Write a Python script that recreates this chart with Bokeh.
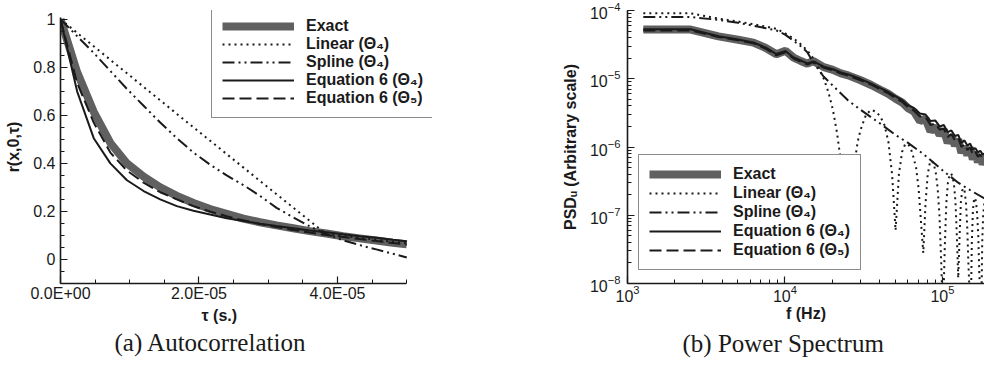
from bokeh.plotting import figure
from bokeh.layouts import row
from bokeh.models import (Range1d, FixedTicker, CustomJSTickFormatter, Legend,
                          LegendItem, Title)
from bokeh.embed import file_html
from bokeh.resources import INLINE

# ---------------- (a) Autocorrelation ----------------
tau = [0, 2.4e-6, 4.8e-6, 7.2e-6, 9.6e-6, 1.2e-5, 1.44e-5, 1.68e-5, 1.92e-5,
       2.16e-5, 2.4e-5, 2.64e-5, 2.88e-5, 3.12e-5, 3.36e-5, 3.6e-5, 3.84e-5,
       4.08e-5, 4.32e-5, 4.56e-5, 4.8e-5, 5.0e-5]
r_exact = [1.0, 0.78, 0.615, 0.485, 0.40, 0.345, 0.30, 0.265, 0.235, 0.21,
           0.19, 0.17, 0.155, 0.142, 0.13, 0.118, 0.108, 0.097, 0.088, 0.079,
           0.07, 0.063]
r_eq6_t4 = [1.0, 0.70, 0.505, 0.40, 0.33, 0.285, 0.25, 0.222, 0.203, 0.187,
            0.172, 0.16, 0.149, 0.139, 0.13, 0.121, 0.113, 0.105, 0.097, 0.09,
            0.082, 0.076]
r_eq6_t5 = [1.0, 0.735, 0.57, 0.445, 0.37, 0.32, 0.28, 0.25, 0.222, 0.2,
            0.18, 0.163, 0.148, 0.135, 0.123, 0.112, 0.102, 0.094, 0.085,
            0.077, 0.069, 0.062]
r_spline = [1.0, 0.93, 0.86, 0.785, 0.71, 0.64, 0.57, 0.505, 0.445, 0.395,
            0.35, 0.31, 0.265, 0.215, 0.175, 0.138, 0.105, 0.08, 0.06, 0.042,
            0.024, 0.008]
tau_linear = [0, 1.92e-5, 3.84e-5, 4.32e-5, 5.0e-5]
r_linear = [1.0, 0.55, 0.105, 0.09, 0.067]

# ---------------- (b) Power spectrum ----------------
f_psd = [1260, 2520, 3780, 5040, 6300, 7560, 8820, 10080, 11340, 12600, 13860,
         15120, 17640, 20160, 22680, 25200, 30240, 35280, 40320, 45360, 50400,
         55440, 60480, 66000, 72000, 78000, 84000, 90000, 96000, 102000,
         108000, 114000, 120000, 126000, 132000, 138000, 144000, 150000,
         156000, 162000, 168000, 174000, 180000, 186000]
psd_exact = [5.25e-5, 5.25e-5, 4.17e-5, 3.72e-5, 3.39e-5, 2.82e-5, 2.29e-5,
             2.57e-5, 2.04e-5, 1.82e-5, 1.66e-5, 1.82e-5, 1.48e-5, 1.35e-5,
             1.20e-5, 1.12e-5, 9.5e-6, 8.1e-6, 6.9e-6, 6.0e-6, 5.1e-6, 4.5e-6,
             3.7e-6, 3.3e-6, 2.4e-6, 2.6e-6, 1.7e-6, 2.0e-6, 1.5e-6, 1.8e-6,
             1.15e-6, 1.45e-6, 1.05e-6, 1.29e-6, 8.2e-7, 1.02e-6, 7.6e-7,
             9.8e-7, 6.6e-7, 8.3e-7, 6.0e-7, 7.6e-7, 5.6e-7, 6.6e-7]
psd_eq6_t4 = [5.3e-5, 5.3e-5, 4.2e-5, 3.75e-5, 3.4e-5, 2.85e-5, 2.3e-5,
              2.55e-5, 2.05e-5, 1.85e-5, 1.68e-5, 1.8e-5, 1.5e-5, 1.38e-5,
              1.24e-5, 1.16e-5, 9.9e-6, 8.5e-6, 7.3e-6, 6.4e-6, 5.5e-6, 4.9e-6,
              4.1e-6, 3.7e-6, 3.1e-6, 3.0e-6, 2.4e-6, 2.45e-6, 2.0e-6, 2.1e-6,
              1.65e-6, 1.75e-6, 1.45e-6, 1.5e-6, 1.15e-6, 1.25e-6, 1.05e-6,
              1.12e-6, 9.2e-7, 9.6e-7, 8.4e-7, 8.8e-7, 7.8e-7, 8.0e-7]
psd_eq6_t5 = [5.1e-5, 5.1e-5, 4.1e-5, 3.65e-5, 3.3e-5, 2.75e-5, 2.2e-5,
              2.45e-5, 1.98e-5, 1.78e-5, 1.62e-5, 1.75e-5, 1.45e-5, 1.33e-5,
              1.19e-5, 1.11e-5, 9.5e-6, 8.2e-6, 7.0e-6, 6.1e-6, 5.2e-6, 4.6e-6,
              3.8e-6, 3.4e-6, 2.8e-6, 2.75e-6, 2.1e-6, 2.2e-6, 1.8e-6, 1.85e-6,
              1.4e-6, 1.55e-6, 1.25e-6, 1.35e-6, 1.0e-6, 1.1e-6, 9.0e-7,
              9.8e-7, 7.8e-7, 8.5e-7, 7.2e-7, 7.8e-7, 6.6e-7, 7.0e-7]
f_linear = [1260, 2520, 3780, 5040, 6300, 7560, 8820, 10080, 11340, 12600,
            13860, 15120, 16380, 17640, 18900, 20160, 21420, 22680, 23940,
            25200, 26460, 27720, 28980, 30240, 32760, 35280, 37800, 40320,
            42840, 45360, 47880, 50400, 52920, 55440, 57960, 60480, 63000,
            65520, 68040, 70560, 73080, 75600, 78120, 80640, 83160, 85680,
            88200, 90720, 93240, 95760, 98280, 100800, 103320, 105840, 108360,
            110880, 113400, 115920, 118440, 120960, 123480, 126000, 128520,
            131040, 133560, 136080, 138600, 141120, 143640, 146160, 151200,
            153720, 156240, 158760, 161280, 163800, 166320, 168840, 171360,
            176400, 178920, 181440, 184000, 186000]
psd_linear = [9.1e-5, 9.1e-5, 7.6e-5, 6.9e-5, 6.3e-5, 5.8e-5, 5.4e-5, 4.6e-5,
              3.9e-5, 3.2e-5, 2.6e-5, 2.0e-5, 1.45e-5, 1.0e-5, 6.3e-6, 3.5e-6,
              1.6e-6, 6e-7, 2.5e-7, 1.5e-7, 2.5e-7, 6e-7, 1.2e-6, 1.8e-6,
              3.0e-6, 3.5e-6, 3.3e-6, 2.8e-6, 2.1e-6, 1.2e-6, 4.0e-7, 6.0e-8,
              4.0e-7, 8.5e-7, 1.1e-6, 1.1e-6, 9.5e-7, 7.0e-7, 5.0e-7, 2.5e-7,
              8.0e-8, 2.8e-8, 1.5e-7, 4.0e-7, 5.8e-7, 6.3e-7, 5.6e-7, 4.2e-7,
              2.5e-7, 1.0e-7, 2.0e-8, 3e-9, 3.0e-8, 1.5e-7, 3.0e-7, 3.9e-7,
              4.1e-7, 3.7e-7, 2.8e-7, 1.6e-7, 5e-8, 1.2e-8, 5e-8, 1.6e-7,
              2.3e-7, 2.5e-7, 2.2e-7, 1.5e-7, 7e-8, 2e-8, 3e-9, 4e-8, 1.2e-7,
              1.7e-7, 1.8e-7, 1.5e-7, 1.0e-7, 5e-8, 1.5e-8, 3e-9, 4e-8,
              1.0e-7, 1.4e-7, 1.6e-7]
f_spline = [1260, 2520, 3780, 5040, 6300, 7560, 8820, 10080, 11340, 12600,
            13860, 15120, 17640, 20160, 25200, 30240, 40320, 50400, 60480,
            75600, 100800, 126000, 151200, 186000]
psd_spline = [8.0e-5, 8.0e-5, 7.3e-5, 6.6e-5, 6.0e-5, 5.5e-5, 5.1e-5, 4.4e-5,
              3.6e-5, 3.0e-5, 2.45e-5, 1.74e-5, 1.07e-5, 7.9e-6, 4.8e-6,
              3.5e-6, 2.2e-6, 1.5e-6, 1.15e-6, 7.9e-7, 4.5e-7, 3.0e-7, 2.3e-7,
              1.75e-7]

labels = ["Exact", "Linear (\u0398\u2084)", "Spline (\u0398\u2084)",
          "Equation 6 (\u0398\u2084)", "Equation 6 (\u0398\u2085)"]

INK = "#1a1a1a"
GRAY = "#606060"
SANS = "Liberation Sans"
SERIF = "Liberation Serif"


def style_axis(ax, label_standoff, tick_standoff):
    ax.axis_line_width = 1.6
    ax.axis_line_color = INK
    ax.major_tick_in = 7
    ax.major_tick_out = 0
    ax.minor_tick_in = 4
    ax.minor_tick_out = 0
    ax.major_tick_line_color = INK
    ax.major_tick_line_width = 1.2
    ax.minor_tick_line_color = INK
    ax.minor_tick_line_width = 1
    ax.major_label_text_font = SANS
    ax.major_label_text_font_size = "16px"
    ax.major_label_text_color = INK
    ax.axis_label_text_font = SANS
    ax.axis_label_text_font_style = "bold"
    ax.axis_label_text_font_size = "16px"
    ax.axis_label_text_color = INK
    ax.axis_label_standoff = label_standoff
    ax.major_label_standoff = tick_standoff


def draw_series(p, xs_list, ys_list):
    r_ex = p.line(xs_list[0], ys_list[0], line_color=GRAY, line_width=8)
    r_li = p.line(xs_list[1], ys_list[1], line_color=INK, line_width=2,
                  line_dash="2 4")
    r_sp = p.line(xs_list[2], ys_list[2], line_color=INK, line_width=2,
                  line_dash="12 4 2 4 2 4")
    r_e4 = p.line(xs_list[3], ys_list[3], line_color=INK, line_width=2)
    r_e5 = p.line(xs_list[4], ys_list[4], line_color=INK, line_width=2,
                  line_dash="12 5")
    return [r_ex, r_li, r_sp, r_e4, r_e5]


def make_legend(renderers, loc, spacing):
    return Legend(
        items=[LegendItem(label=lab, renderers=[r])
               for lab, r in zip(labels, renderers)],
        location=loc, border_line_color=INK, border_line_width=1.5,
        background_fill_color="white", background_fill_alpha=1.0,
        label_text_font=SANS, label_text_font_style="bold",
        label_text_font_size="16px", label_text_color=INK,
        glyph_width=72, glyph_height=18, label_height=18, spacing=spacing,
        padding=10, label_standoff=12, margin=0)


# ---------- left figure ----------
# frame widened to the right / top so the legend box is not clipped;
# the axes themselves are bounded to the data extent.
p1 = figure(width=480, height=366, output_backend="svg", toolbar_location=None,
            x_range=Range1d(0, 5.372e-5), y_range=Range1d(-0.1, 1.0366),
            min_border_left=60, min_border_right=48, min_border_top=3,
            min_border_bottom=83)
p1.outline_line_color = None
p1.grid.visible = False
p1.background_fill_color = "white"

rs1 = draw_series(p1, [tau, tau_linear, tau, tau, tau],
                  [r_exact, r_linear, r_spline, r_eq6_t4, r_eq6_t5])

p1.xaxis.bounds = (0, 5e-5)
p1.yaxis.bounds = (-0.1, 1.008)
p1.xaxis.ticker = FixedTicker(
    ticks=[0, 2e-5, 4e-5],
    minor_ticks=[5e-6, 1e-5, 1.5e-5, 2.5e-5, 3e-5, 3.5e-5, 4.5e-5, 5e-5])
p1.xaxis.formatter = CustomJSTickFormatter(code="""
    const s = tick.toExponential(1).toUpperCase();
    const parts = s.split("E");
    const e = parts[1];
    let d = e.slice(1);
    if (d.length < 2) { d = "0" + d; }
    return parts[0] + "E" + e[0] + d;
""")
p1.yaxis.ticker = FixedTicker(
    ticks=[0, 0.2, 0.4, 0.6, 0.8, 1.0],
    minor_ticks=[-0.1, -0.05, 0.05, 0.1, 0.15, 0.25, 0.3, 0.35, 0.45, 0.5,
                 0.55, 0.65, 0.7, 0.75, 0.85, 0.9, 0.95])
p1.yaxis.formatter = CustomJSTickFormatter(
    code="return (Math.round(tick * 10) / 10).toString();")
p1.yaxis.axis_label = "r(x,0,\u03c4)"
style_axis(p1.xaxis[0], 0, 1)
style_axis(p1.yaxis[0], 8, 5)

p1.add_layout(make_legend(rs1, (151, 165), 0))
# x label of panel (a), placed under the data extent (not the widened frame)
p1.add_layout(Title(text="\u03c4 (s.)", align="left", offset=141,
                    standoff=0, text_font=SANS, text_font_style="bold",
                    text_font_size="16px", text_color=INK), "below")
p1.add_layout(Title(text="(a) Autocorrelation", align="left", offset=54,
                    standoff=6, text_font=SERIF, text_font_style="normal",
                    text_font_size="25px", text_color=INK), "below")

# ---------- right figure ----------
p2 = figure(width=504, height=366, output_backend="svg", toolbar_location=None,
            x_axis_type="log", y_axis_type="log",
            x_range=Range1d(1e3, 1.85e5), y_range=Range1d(1e-8, 1e-4),
            min_border_left=147, min_border_right=0, min_border_top=10,
            min_border_bottom=83)
p2.outline_line_color = None
p2.grid.visible = False
p2.background_fill_color = "white"

rs2 = draw_series(p2, [f_psd, f_linear, f_spline, f_psd, f_psd],
                  [psd_exact, psd_linear, psd_spline, psd_eq6_t4, psd_eq6_t5])

p2.xaxis.axis_label = "f (Hz)"
p2.yaxis.axis_label = "PSD\u1d64 (Arbitrary scale)"
style_axis(p2.xaxis[0], 0, 1)
style_axis(p2.yaxis[0], 8, 7)

p2.add_layout(make_legend(rs2, (11, 13), 1))
p2.add_layout(Title(text="(b) Power Spectrum", align="left", offset=55,
                    standoff=6, text_font=SERIF, text_font_style="normal",
                    text_font_size="25px", text_color=INK), "below")

layout = row(p1, p2)
open("out.html", "w").write(file_html(layout, INLINE))
